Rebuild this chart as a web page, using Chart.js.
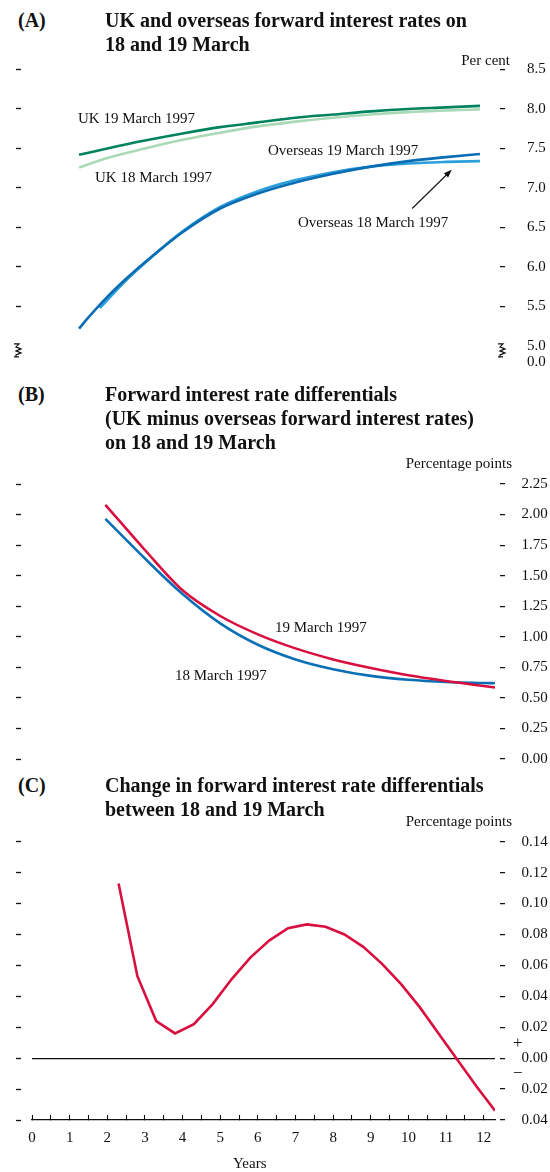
<!DOCTYPE html>
<html lang="en">
<head>
<meta charset="UTF-8">
<title>UK and overseas forward interest rates</title>
<script src="https://cdn.jsdelivr.net/npm/chart.js"></script>
<style>
    body {
        margin: 0;
        background: #fff;
        font-family: 'Liberation Serif', 'Times New Roman', serif;
        color: #111;
    }
    .page { position: relative; width: 550px; height: 1172px; overflow: hidden; }
    .page canvas { position: absolute; left: 0; }
    .head { position: absolute; font-weight: bold; font-size: 20px; line-height: 24px; white-space: nowrap; }
    .txt { position: absolute; font-size: 15px; line-height: 18px; white-space: nowrap; }
    .sign { position: absolute; font-size: 17px; line-height: 18px; }
</style>
</head>
<body>
<div class="page">
    <canvas id="chartA" width="550" height="320" style="top:55px"></canvas>
    <canvas id="chartB" width="550" height="302" style="top:470px"></canvas>
    <canvas id="chartC" width="550" height="344" style="top:828px"></canvas>

    <!-- panel titles -->
    <div class="head" style="left:18px; top:8px">(A)</div>
    <div class="head" style="left:105px; top:8px">UK and overseas forward interest rates on<br>18 and 19 March</div>
    <div class="txt" style="right:40px; top:51px">Per cent</div>

    <div class="head" style="left:18px; top:382px">(B)</div>
    <div class="head" style="left:105px; top:382px">Forward interest rate differentials<br>(UK minus overseas forward interest rates)<br>on 18 and 19 March</div>
    <div class="txt" style="right:38px; top:454px">Percentage points</div>

    <div class="head" style="left:18px; top:773px">(C)</div>
    <div class="head" style="left:105px; top:773px">Change in forward interest rate differentials<br>between 18 and 19 March</div>
    <div class="txt" style="right:38px; top:812px">Percentage points</div>

    <!-- series labels -->
    <div class="txt" style="left:78px; top:109px">UK 19 March 1997</div>
    <div class="txt" style="left:95px; top:168px">UK 18 March 1997</div>
    <div class="txt" style="left:268px; top:141px">Overseas 19 March 1997</div>
    <div class="txt" style="left:298px; top:213px">Overseas 18 March 1997</div>
    <div class="txt" style="left:275px; top:618px">19 March 1997</div>
    <div class="txt" style="left:175px; top:666px">18 March 1997</div>

    <div class="sign" style="left:513px; top:1034px">+</div>
    <div class="sign" style="left:513px; top:1064px">&minus;</div>
    <div class="txt" style="left:233px; top:1154px">Years</div>
</div>

<script>
    // ---- Panel A: forward rates (per cent) ----
    const ukYears = [1.25, 2, 3, 4, 5, 6, 7, 8, 9, 10, 11, 11.9];
    const uk19 = [7.42, 7.50, 7.60, 7.69, 7.77, 7.83, 7.89, 7.93, 7.97, 8.00, 8.02, 8.04];
    const uk18 = [7.26, 7.38, 7.50, 7.61, 7.70, 7.78, 7.84, 7.89, 7.93, 7.96, 7.98, 7.995];

    const os19Years = [1.25, 1.5, 2, 2.5, 3, 4, 5, 6, 7, 8, 9, 10, 11, 11.9];
    const os19 = [5.22, 5.36, 5.62, 5.85, 6.06, 6.44, 6.74, 6.93, 7.07, 7.18, 7.27, 7.34, 7.39, 7.43];
    const os18Years = [1.8, 2, 2.5, 3, 4, 5, 6, 7, 8, 9, 10, 11, 11.9];
    const os18 = [5.48, 5.58, 5.83, 6.05, 6.45, 6.76, 6.96, 7.10, 7.20, 7.27, 7.31, 7.33, 7.34];

    const aTicks = [8.5, 8.0, 7.5, 7.0, 6.5, 6.0, 5.5, 5.0];
    const aFloor = 4.79;          // where the broken axis shows 0.0
    const arrowFrom = [10.1, 6.74];
    const arrowTo = [11.15, 7.23];

    // ---- Panel B: differentials (percentage points) ----
    const diffYears = [1.95, 3, 4, 5, 6, 7, 8, 9, 10, 11, 12, 12.3];
    const diff19 = [2.08, 1.71, 1.38, 1.17, 1.02, 0.905, 0.815, 0.745, 0.685, 0.638, 0.597, 0.585];
    const diff18 = [1.965, 1.64, 1.35, 1.11, 0.935, 0.815, 0.735, 0.68, 0.648, 0.63, 0.622, 0.62];
    const bTicks = [2.25, 2.0, 1.75, 1.5, 1.25, 1.0, 0.75, 0.5, 0.25, 0];

    // ---- Panel C: change in differentials ----
    const chgYears = [2.3, 2.8, 3.3, 3.8, 4.3, 4.8, 5.3, 5.8, 6.3, 6.8, 7.3, 7.8, 8.3, 8.8, 9.3, 9.8, 10.3, 10.8, 11.3, 11.8, 12.3];
    const chgValues = [0.113, 0.053, 0.024, 0.016, 0.022, 0.035, 0.051, 0.065, 0.076, 0.084, 0.0865, 0.085, 0.080, 0.072, 0.061, 0.048, 0.033, 0.016, -0.001, -0.018, -0.034];
    const cTicks = [0.14, 0.12, 0.10, 0.08, 0.06, 0.04, 0.02, 0, -0.02, -0.04];

    const yearLabels = [0, 1, 2, 3, 4, 5, 6, 7, 8, 9, 10, 11, 12];
    const yearMax = 12.3;

    Chart.defaults.font.family = "'Liberation Serif', 'Times New Roman', serif";
    Chart.defaults.font.size = 15;
    Chart.defaults.color = '#111';

    const pts = (xs, ys) => xs.map((x, i) => ({ x: x, y: ys[i] }));

    function line(data, color, smooth) {
        return {
            data: data,
            borderColor: color,
            borderWidth: 2.6,
            pointRadius: 0,
            fill: false,
            tension: smooth ? 0.4 : 0,
            cubicInterpolationMode: smooth ? 'monotone' : 'default'
        };
    }

    function setTicks(list) {
        return scale => { scale.ticks = list.map(v => ({ value: v })); };
    }

    function baseOptions(cfg) {
        return {
            responsive: false,
            animation: false,
            events: [],
            layout: { padding: { top: cfg.padTop, bottom: cfg.padBottom, left: 0, right: 2 } },
            plugins: { legend: { display: false }, tooltip: { enabled: false } },
            scales: {
                x: cfg.x || { type: 'linear', display: false, min: 0, max: yearMax },
                y: {
                    position: 'right',
                    min: cfg.min,
                    max: cfg.max,
                    afterBuildTicks: setTicks(cfg.ticks),
                    afterFit: s => { s.width = 53; s.paddingTop = 0; s.paddingBottom = 0; },
                    border: { display: false },
                    grid: {
                        drawOnChartArea: !!cfg.zeroLine,
                        color: ctx => (cfg.zeroLine && ctx.tick && ctx.tick.value === 0) ? '#111' : 'rgba(0,0,0,0)',
                        lineWidth: 1.2,
                        tickLength: 10,
                        tickWidth: 1.3,
                        tickColor: cfg.tickColor || '#111',
                        tickBorderDash: [0, 5, 5]
                    },
                    ticks: {
                        autoSkip: false,
                        padding: cfg.labelPad,
                        callback: cfg.label
                    }
                },
                yl: {
                    position: 'left',
                    min: cfg.min,
                    max: cfg.max,
                    afterBuildTicks: setTicks(cfg.ticks),
                    afterFit: s => { s.width = 32; s.paddingTop = 0; s.paddingBottom = 0; },
                    border: { display: false },
                    grid: {
                        drawOnChartArea: false,
                        tickLength: 16,
                        tickWidth: 1.3,
                        tickColor: cfg.tickColor || '#111',
                        tickBorderDash: [5, 40]
                    },
                    ticks: { display: false }
                }
            }
        };
    }

    // arrow + axis break marks for panel A
    const panelADecor = {
        id: 'panelADecor',
        afterDatasetsDraw(chart) {
            const { ctx, chartArea } = chart;
            const xs = chart.scales.x, ys = chart.scales.y;
            const x0 = xs.getPixelForValue(arrowFrom[0]), y0 = ys.getPixelForValue(arrowFrom[1]);
            const x1 = xs.getPixelForValue(arrowTo[0]), y1 = ys.getPixelForValue(arrowTo[1]);
            const ang = Math.atan2(y1 - y0, x1 - x0);
            ctx.save();
            ctx.strokeStyle = '#111';
            ctx.fillStyle = '#111';
            ctx.lineWidth = 1.1;
            ctx.beginPath();
            ctx.moveTo(x0, y0);
            ctx.lineTo(x1 - 6 * Math.cos(ang), y1 - 6 * Math.sin(ang));
            ctx.stroke();
            ctx.beginPath();
            ctx.moveTo(x1, y1);
            ctx.lineTo(x1 - 8 * Math.cos(ang) + 3 * Math.sin(ang), y1 - 8 * Math.sin(ang) - 3 * Math.cos(ang));
            ctx.lineTo(x1 - 8 * Math.cos(ang) - 3 * Math.sin(ang), y1 - 8 * Math.sin(ang) + 3 * Math.cos(ang));
            ctx.closePath();
            ctx.fill();

            // zig-zag break symbols at both ends of the axis
            const top = ys.getPixelForValue(5.0) - 2;
            [14, chartArea.right + 3].forEach(bx => {
                ctx.beginPath();
                ctx.lineWidth = 1.2;
                ctx.moveTo(bx, top);
                ctx.lineTo(bx + 5, top);
                ctx.lineTo(bx + 2, top + 3);
                ctx.lineTo(bx + 7, top + 5);
                ctx.lineTo(bx + 2, top + 7);
                ctx.lineTo(bx + 7, top + 9);
                ctx.lineTo(bx + 2, top + 11);
                ctx.lineTo(bx + 2, top + 13);
                ctx.moveTo(bx, top + 13);
                ctx.lineTo(bx + 5, top + 13);
                ctx.stroke();
            });
            ctx.restore();
        }
    };

    // Panel A
    const optsA = baseOptions({
        padTop: 14.5, padBottom: 12.5,
        min: aFloor, max: 8.5,
        ticks: aTicks.concat([aFloor]),
        labelPad: 22,
        label: v => (v < 5 ? '0.0' : v.toFixed(1)),
        tickColor: ctx => (ctx.tick && ctx.tick.value < 5.2) ? 'rgba(0,0,0,0)' : '#111'
    });
    new Chart(document.getElementById('chartA'), {
        type: 'line',
        data: {
            datasets: [
                line(pts(ukYears, uk19), '#00835c', true),
                line(pts(ukYears, uk18), '#a9d9b6', true),
                line(pts(os19Years, os19), '#0a6db3', true),
                line(pts(os18Years, os18), '#2a9fdc', true)
            ]
        },
        options: optsA,
        plugins: [panelADecor]
    });

    // Panel B
    new Chart(document.getElementById('chartB'), {
        type: 'line',
        data: {
            datasets: [
                line(pts(diffYears, diff19), '#d80f3f', true),
                line(pts(diffYears, diff18), '#0b6fb5', true)
            ]
        },
        options: baseOptions({
            padTop: 14, padBottom: 13,
            min: 0, max: 2.25,
            ticks: bTicks,
            labelPad: 16.5,
            label: v => v.toFixed(2)
        })
    });

    // Panel C
    const yearTicks = [];
    yearLabels.forEach(v => { yearTicks.push(v); if (v < 12) yearTicks.push(v + 0.5); });

    new Chart(document.getElementById('chartC'), {
        type: 'line',
        data: {
            datasets: [line(pts(chgYears, chgValues), '#d80f3f', false)]
        },
        options: baseOptions({
            padTop: 13.7, padBottom: 0,
            min: -0.04, max: 0.14,
            ticks: cTicks,
            labelPad: 16.5,
            zeroLine: true,
            label: v => Math.abs(v).toFixed(2),
            x: {
                type: 'linear',
                position: 'bottom',
                min: 0,
                max: yearMax,
                afterBuildTicks: setTicks(yearTicks),
                afterFit: s => { s.height = 52; s.paddingLeft = 0; s.paddingRight = 0; },
                border: { display: true, color: '#111', width: 1.3 },
                grid: {
                    drawOnChartArea: false,
                    drawTicks: true,
                    tickLength: -5,      // small ticks pointing up into the plot
                    tickColor: '#111',
                    tickWidth: 1.1
                },
                ticks: {
                    autoSkip: false,
                    maxRotation: 0,
                    padding: 14,
                    callback: v => (Number.isInteger(v) ? String(v) : '')
                }
            }
        })
    });
</script>
</body>
</html>
